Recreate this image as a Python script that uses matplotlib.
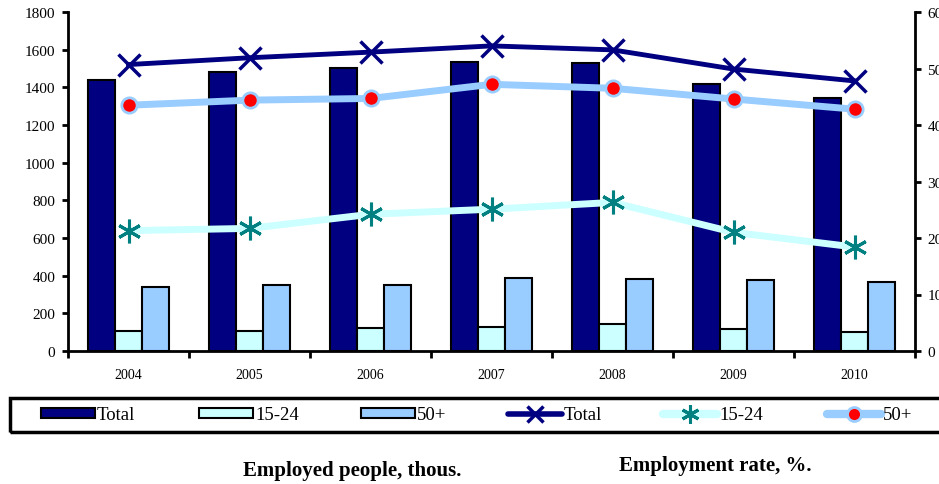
import matplotlib
matplotlib.use("Agg")
import matplotlib.pyplot as plt
import numpy as np
from matplotlib.patches import Patch, Rectangle
from matplotlib.lines import Line2D

years = ["2004", "2005", "2006", "2007", "2008", "2009", "2010"]
emp_total = [1440, 1482, 1503, 1536, 1528, 1418, 1344]
emp_15_24 = [108, 105, 120, 129, 145, 117, 103]
emp_50p = [338, 352, 352, 386, 382, 377, 368]
rate_total = [50.7, 51.9, 52.9, 54.0, 53.3, 49.9, 47.8]
rate_15_24 = [21.3, 21.7, 24.2, 25.1, 26.3, 21.0, 18.4]
rate_50p = [43.5, 44.4, 44.7, 47.2, 46.5, 44.6, 42.8]

plt.rcParams['font.family'] = ['Liberation Serif', 'DejaVu Serif']

W, H = 939, 485
fig = plt.figure(figsize=(W / 100, H / 100), dpi=100)
ax = fig.add_axes([68 / W, 1 - 352 / H, (915 - 68) / W, (352 - 13) / H])
ax2 = ax.twinx()

x = np.arange(len(years))
bw = 0.225
c_total, c_young, c_old = '#000080', '#CCFFFF', '#99CCFF'
ax.bar(x - bw, emp_total, bw, color=c_total, edgecolor='black', linewidth=1.5, zorder=2)
ax.bar(x, emp_15_24, bw, color=c_young, edgecolor='black', linewidth=1.5, zorder=2)
ax.bar(x + bw, emp_50p, bw, color=c_old, edgecolor='black', linewidth=1.5, zorder=2)

ast = (6, 2, 0)
ax2.plot(x, rate_total, color=c_total, lw=3.5, marker='x', ms=16, mew=2.5, mec=c_total, zorder=3)
ax2.plot(x, rate_15_24, color=c_young, lw=5, marker=ast, ms=17, mew=2.2, mec='#008080', zorder=3)
ax2.plot(x, rate_50p, color=c_old, lw=5, marker='o', ms=11, mfc='red', mec=c_old, mew=2, zorder=3)

ax.set_xlim(-0.5, len(years) - 0.5)
ax.set_ylim(0, 1800)
ax.set_yticks(range(0, 1801, 200))
ax2.set_ylim(0, 60)
ax2.set_yticks(range(0, 61, 10))

ax.set_xticks(x)
ax.set_xticklabels(years, fontsize=10)
ax.set_xticks(np.arange(-0.5, len(years), 1), minor=True)
ax.tick_params(axis='x', which='major', length=0, pad=12)
ax.tick_params(axis='x', which='minor', length=5, width=2, direction='out')
ax.tick_params(axis='y', labelsize=11, length=4, width=2, direction='out', pad=5)
ax2.tick_params(axis='y', labelsize=11, length=4, width=2, direction='out', pad=5)

for a in (ax, ax2):
    a.spines['top'].set_visible(False)
    a.spines['left'].set_linewidth(2)
    a.spines['bottom'].set_linewidth(2)
    a.spines['right'].set_linewidth(2)
ax.spines['right'].set_visible(False)
ax2.spines['left'].set_visible(False)
ax2.spines['bottom'].set_visible(False)

handles = [
    Patch(facecolor=c_total, edgecolor='black', linewidth=1.5, label='Total'),
    Patch(facecolor=c_young, edgecolor='black', linewidth=1.5, label='15-24'),
    Patch(facecolor=c_old, edgecolor='black', linewidth=1.5, label='50+'),
    Line2D([], [], color=c_total, lw=4, marker='x', ms=11, mew=2.5, solid_capstyle='round', label='Total'),
    Line2D([], [], color=c_young, lw=6, marker=ast, ms=13, mew=2.2, mec='#008080', solid_capstyle='round', label='15-24'),
    Line2D([], [], color=c_old, lw=6, marker='o', ms=10, mfc='red', mec=c_old, mew=2, solid_capstyle='round', label='50+'),
]
x_starts = [41, 199, 361, 508, 663, 827]
fs = 13.5
em = fs * 100 / 72
for h, xs in zip(handles, x_starts):
    fig.legend(handles=[h], loc='center left',
               bbox_to_anchor=(xs / W, 1 - 416 / H),
               fontsize=fs, frameon=False, handlelength=54 / em,
               handleheight=0.5, handletextpad=2 / em,
               borderpad=0, borderaxespad=0)

fig.patches.append(Rectangle((10 / W, 1 - 433 / H), 940 / W, 34 / H,
                             transform=fig.transFigure, fill=False,
                             edgecolor='black', linewidth=2.5))

fig.text(352.5 / W, 1 - 471 / H, 'Employed people, thous.', ha='center', va='center',
         fontsize=15, fontweight='bold')
fig.text(715 / W, 1 - 466 / H, 'Employment rate, %.', ha='center', va='center',
         fontsize=15, fontweight='bold')

fig.savefig('out.png', dpi=100)
